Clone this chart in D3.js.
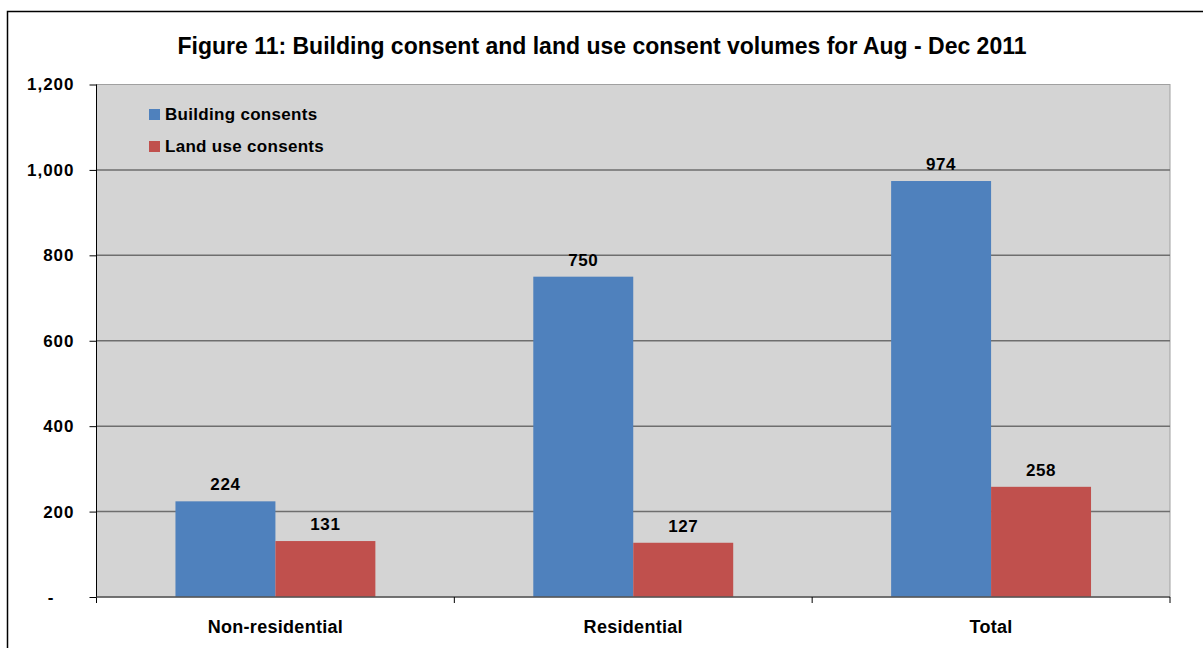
<!DOCTYPE html>
<meta charset="utf-8" />
<style>
  body { margin: 0; background: #fff; }
  text { font-family: "Liberation Sans", Arial, sans-serif; font-weight: bold; fill: #000; }
</style>
<svg width="1203" height="648"></svg>
<script src="https://d3js.org/d3.v7.min.js"></script>
<script>
  var svg = d3.select("svg");
  var width = +svg.attr("width");
  var height = +svg.attr("height");

  // chart data
  var categories = ["Non-residential", "Residential", "Total"];
  var seriesNames = ["Building consents", "Land use consents"];
  var buildingConsents = [224, 750, 974];
  var landUseConsents = [131, 127, 258];
  var yTicks = [0, 200, 400, 600, 800, 1000, 1200];
  var colors = ["#4f81bd", "#c0504d"];

  var rows = categories.map(function(c, i) {
    return { cat: c, values: [buildingConsents[i], landUseConsents[i]] };
  });

  var plot = { left: 96.5, top: 84.5, right: 1170, bottom: 597 };

  // outer frame (runs off the right and bottom edge)
  svg.append("rect")
    .attr("x", 7.5).attr("y", 11.5)
    .attr("width", width + 20).attr("height", height + 20)
    .attr("fill", "none").attr("stroke", "#000").attr("stroke-width", 1.5);

  svg.append("text")
    .attr("x", 602).attr("y", 54)
    .attr("text-anchor", "middle")
    .style("font-size", "23px")
    .text("Figure 11: Building consent and land use consent volumes for Aug - Dec 2011");

  var x0 = d3.scaleBand().domain(categories).range([plot.left, plot.right]);
  var x1 = d3.scaleBand().domain([0, 1]).range([0, x0.bandwidth()]).paddingOuter(0.79);
  var y = d3.scaleLinear().domain([0, 1200]).range([plot.bottom, plot.top]);

  // plot background
  svg.append("rect")
    .attr("x", plot.left).attr("y", plot.top)
    .attr("width", plot.right - plot.left).attr("height", plot.bottom - plot.top)
    .attr("fill", "#d4d4d4").attr("stroke", "#a0a0a0").attr("stroke-width", 1);

  // gridlines
  svg.append("g")
    .selectAll("line")
    .data(yTicks.slice(1, -1))
    .enter()
    .append("line")
    .attr("x1", plot.left).attr("x2", plot.right)
    .attr("y1", d => y(d)).attr("y2", d => y(d))
    .attr("stroke", "#6e6e6e").attr("stroke-width", 1.5);

  // bars
  var groups = svg.append("g")
    .selectAll("g")
    .data(rows)
    .enter()
    .append("g")
    .attr("transform", d => "translate(" + x0(d.cat) + ",0)");

  groups.selectAll("rect")
    .data(d => d.values)
    .enter()
    .append("rect")
    .attr("x", (d, i) => x1(i))
    .attr("y", d => y(d))
    .attr("width", x1.bandwidth())
    .attr("height", d => y(0) - y(d))
    .attr("fill", (d, i) => colors[i]);

  groups.selectAll("text")
    .data(d => d.values)
    .enter()
    .append("text")
    .attr("x", (d, i) => x1(i) + x1.bandwidth() / 2)
    .attr("y", d => y(d) - 11)
    .attr("text-anchor", "middle")
    .style("font-size", "17px")
    .style("letter-spacing", "0.6px")
    .text(d => d3.format(",")(d));

  // y axis
  var yAxis = d3.axisLeft(y)
    .tickValues(yTicks)
    .tickSize(7)
    .tickPadding(15)
    .tickFormat(d => d === 0 ? "-" : d3.format(",")(d));
  var ya = svg.append("g")
    .attr("transform", "translate(" + plot.left + ",0)")
    .call(yAxis);
  ya.select(".domain").attr("stroke", "#000").attr("d", "M0," + plot.top + "V" + (plot.bottom + 6));
  ya.selectAll(".tick line").attr("stroke", "#000");
  ya.selectAll(".tick text")
    .style("font-size", "17px")
    .style("letter-spacing", "1px")
    .attr("fill", "#000");
  // accounting style dash sits further left
  ya.selectAll(".tick text").filter(d => d === 0).attr("dx", "-20");

  // x axis line
  svg.append("line")
    .attr("x1", plot.left).attr("x2", plot.right)
    .attr("y1", plot.bottom).attr("y2", plot.bottom)
    .attr("stroke", "#555").attr("stroke-width", 1.5);

  // category boundary ticks
  var bounds = categories.map(c => x0(c) + x0.bandwidth());
  svg.append("g")
    .selectAll("line")
    .data(bounds)
    .enter()
    .append("line")
    .attr("x1", d => d).attr("x2", d => d)
    .attr("y1", plot.bottom).attr("y2", plot.bottom + 6)
    .attr("stroke", "#000");

  svg.append("g")
    .selectAll("text")
    .data(categories)
    .enter()
    .append("text")
    .attr("x", d => x0(d) + x0.bandwidth() / 2)
    .attr("y", 633)
    .attr("text-anchor", "middle")
    .style("font-size", "18px")
    .style("letter-spacing", "0.3px")
    .text(d => d);

  // legend
  var legend = svg.append("g")
    .selectAll("g")
    .data(seriesNames)
    .enter()
    .append("g")
    .attr("transform", (d, i) => "translate(149," + (109 + i * 32) + ")");
  legend.append("rect")
    .attr("width", 11).attr("height", 11)
    .attr("fill", (d, i) => colors[i]);
  legend.append("text")
    .attr("x", 16).attr("y", 11)
    .style("font-size", "17px")
    .style("letter-spacing", "0.3px")
    .text(d => d);
</script>
